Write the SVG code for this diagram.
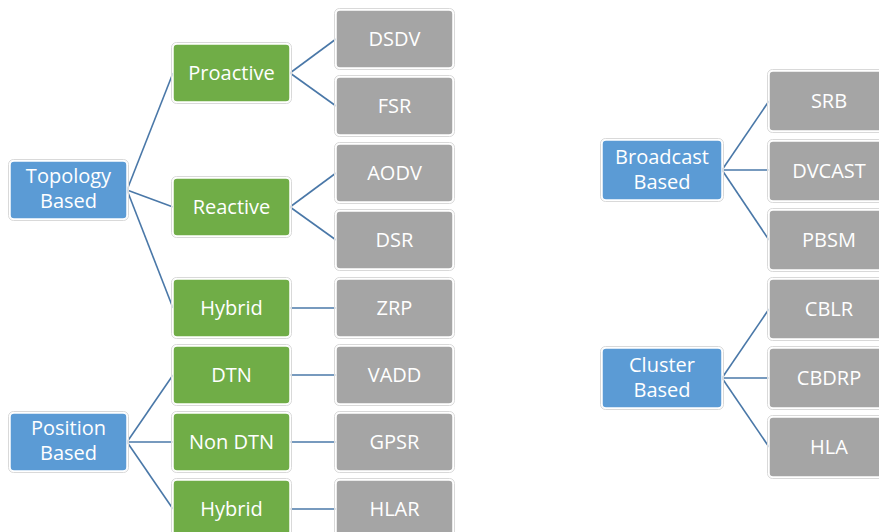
<svg xmlns="http://www.w3.org/2000/svg" width="879" height="532" viewBox="0 0 879 532">
  <style>
    .halo { fill: none; stroke: #d9d9d9; stroke-width: 1; }
    .box { stroke: #ffffff; stroke-width: 1.5; }
    .cat { fill: #5b9bd5; }
    .sub { fill: #70ad47; }
    .proto { fill: #a5a5a5; }
    .lbl { font-family: "Open Sans", "Liberation Sans", sans-serif; font-size: 20px; fill: #ffffff; text-anchor: middle; }
    #connectors line { stroke: #4a78a8; stroke-width: 1.6; }
  </style>
  <rect width="879" height="532" fill="#ffffff"/>

  <g id="connectors">
    <!-- Topology Based -->
    <line x1="127" y1="190" x2="173" y2="73"/>
    <line x1="127" y1="190" x2="173" y2="207"/>
    <line x1="127" y1="190" x2="173" y2="308"/>
    <!-- Position Based -->
    <line x1="127" y1="442" x2="173" y2="375"/>
    <line x1="127" y1="442" x2="173" y2="442"/>
    <line x1="127" y1="442" x2="173" y2="509"/>
    <!-- second level -->
    <line x1="290" y1="73" x2="336" y2="39"/>
    <line x1="290" y1="73" x2="336" y2="106"/>
    <line x1="290" y1="207" x2="336" y2="173"/>
    <line x1="290" y1="207" x2="336" y2="240"/>
    <line x1="290" y1="308" x2="336" y2="308"/>
    <line x1="290" y1="375" x2="336" y2="375"/>
    <line x1="290" y1="442" x2="336" y2="442"/>
    <line x1="290" y1="509" x2="336" y2="509"/>
    <!-- Broadcast Based -->
    <line x1="722" y1="170" x2="769" y2="101"/>
    <line x1="722" y1="170" x2="769" y2="170"/>
    <line x1="722" y1="170" x2="769" y2="240"/>
    <!-- Cluster Based -->
    <line x1="722" y1="378" x2="769" y2="309"/>
    <line x1="722" y1="378" x2="769" y2="378"/>
    <line x1="722" y1="378" x2="769" y2="447"/>
  </g>

  <!-- Category nodes -->
  <g id="topology">
    <rect class="halo" x="8.5" y="159.5" width="120" height="61" rx="5"/>
    <rect class="box cat" x="10" y="161" width="117" height="58" rx="4"/>
    <text class="lbl" x="68.5" y="183"><tspan x="68.5">Topology</tspan><tspan x="68.5" dy="25">Based</tspan></text>
  </g>
  <g id="position">
    <rect class="halo" x="8.5" y="411.5" width="120" height="61" rx="5"/>
    <rect class="box cat" x="10" y="413" width="117" height="58" rx="4"/>
    <text class="lbl" x="68.5" y="435"><tspan x="68.5">Position</tspan><tspan x="68.5" dy="25">Based</tspan></text>
  </g>
  <g id="broadcast">
    <rect class="halo" x="600.5" y="138.5" width="123" height="63" rx="5"/>
    <rect class="box cat" x="602" y="140" width="120" height="60" rx="4"/>
    <text class="lbl" x="662" y="164"><tspan x="662">Broadcast</tspan><tspan x="662" dy="25">Based</tspan></text>
  </g>
  <g id="cluster">
    <rect class="halo" x="600.5" y="346.5" width="123" height="63" rx="5"/>
    <rect class="box cat" x="602" y="348" width="120" height="60" rx="4"/>
    <text class="lbl" x="662" y="372"><tspan x="662">Cluster</tspan><tspan x="662" dy="25">Based</tspan></text>
  </g>

  <!-- Sub-category nodes -->
  <g id="proactive">
    <rect class="halo" x="171.5" y="42.5" width="120" height="61" rx="5"/>
    <rect class="box sub" x="173" y="44" width="117" height="58" rx="4"/>
    <text class="lbl" x="231.5" y="80">Proactive</text>
  </g>
  <g id="reactive">
    <rect class="halo" x="171.5" y="176.5" width="120" height="61" rx="5"/>
    <rect class="box sub" x="173" y="178" width="117" height="58" rx="4"/>
    <text class="lbl" x="231.5" y="214">Reactive</text>
  </g>
  <g id="hybrid-topology">
    <rect class="halo" x="171.5" y="277.5" width="120" height="61" rx="5"/>
    <rect class="box sub" x="173" y="279" width="117" height="58" rx="4"/>
    <text class="lbl" x="231.5" y="315">Hybrid</text>
  </g>
  <g id="dtn">
    <rect class="halo" x="171.5" y="344.5" width="120" height="61" rx="5"/>
    <rect class="box sub" x="173" y="346" width="117" height="58" rx="4"/>
    <text class="lbl" x="231.5" y="382">DTN</text>
  </g>
  <g id="non-dtn">
    <rect class="halo" x="171.5" y="411.5" width="120" height="61" rx="5"/>
    <rect class="box sub" x="173" y="413" width="117" height="58" rx="4"/>
    <text class="lbl" x="231.5" y="449">Non DTN</text>
  </g>
  <g id="hybrid-position">
    <rect class="halo" x="171.5" y="478.5" width="120" height="61" rx="5"/>
    <rect class="box sub" x="173" y="480" width="117" height="58" rx="4"/>
    <text class="lbl" x="231.5" y="516">Hybrid</text>
  </g>

  <!-- Protocol nodes, left -->
  <g id="dsdv">
    <rect class="halo" x="334.5" y="8.5" width="120" height="61" rx="5"/>
    <rect class="box proto" x="336" y="10" width="117" height="58" rx="4"/>
    <text class="lbl" x="394.5" y="46">DSDV</text>
  </g>
  <g id="fsr">
    <rect class="halo" x="334.5" y="75.5" width="120" height="61" rx="5"/>
    <rect class="box proto" x="336" y="77" width="117" height="58" rx="4"/>
    <text class="lbl" x="394.5" y="113">FSR</text>
  </g>
  <g id="aodv">
    <rect class="halo" x="334.5" y="142.5" width="120" height="61" rx="5"/>
    <rect class="box proto" x="336" y="144" width="117" height="58" rx="4"/>
    <text class="lbl" x="394.5" y="180">AODV</text>
  </g>
  <g id="dsr">
    <rect class="halo" x="334.5" y="209.5" width="120" height="61" rx="5"/>
    <rect class="box proto" x="336" y="211" width="117" height="58" rx="4"/>
    <text class="lbl" x="394.5" y="247">DSR</text>
  </g>
  <g id="zrp">
    <rect class="halo" x="334.5" y="277.5" width="120" height="61" rx="5"/>
    <rect class="box proto" x="336" y="279" width="117" height="58" rx="4"/>
    <text class="lbl" x="394.5" y="315">ZRP</text>
  </g>
  <g id="vadd">
    <rect class="halo" x="334.5" y="344.5" width="120" height="61" rx="5"/>
    <rect class="box proto" x="336" y="346" width="117" height="58" rx="4"/>
    <text class="lbl" x="394.5" y="382">VADD</text>
  </g>
  <g id="gpsr">
    <rect class="halo" x="334.5" y="411.5" width="120" height="61" rx="5"/>
    <rect class="box proto" x="336" y="413" width="117" height="58" rx="4"/>
    <text class="lbl" x="394.5" y="449">GPSR</text>
  </g>
  <g id="hlar">
    <rect class="halo" x="334.5" y="478.5" width="120" height="61" rx="5"/>
    <rect class="box proto" x="336" y="480" width="117" height="58" rx="4"/>
    <text class="lbl" x="394.5" y="516">HLAR</text>
  </g>

  <!-- Protocol nodes, right -->
  <g id="srb">
    <rect class="halo" x="767.5" y="69.5" width="123" height="63" rx="5"/>
    <rect class="box proto" x="769" y="71" width="120" height="60" rx="4"/>
    <text class="lbl" x="829" y="108">SRB</text>
  </g>
  <g id="dvcast">
    <rect class="halo" x="767.5" y="139.5" width="123" height="63" rx="5"/>
    <rect class="box proto" x="769" y="141" width="120" height="60" rx="4"/>
    <text class="lbl" x="829" y="178">DVCAST</text>
  </g>
  <g id="pbsm">
    <rect class="halo" x="767.5" y="208.5" width="123" height="63" rx="5"/>
    <rect class="box proto" x="769" y="210" width="120" height="60" rx="4"/>
    <text class="lbl" x="829" y="247">PBSM</text>
  </g>
  <g id="cblr">
    <rect class="halo" x="767.5" y="277.5" width="123" height="63" rx="5"/>
    <rect class="box proto" x="769" y="279" width="120" height="60" rx="4"/>
    <text class="lbl" x="829" y="316">CBLR</text>
  </g>
  <g id="cbdrp">
    <rect class="halo" x="767.5" y="346.5" width="123" height="63" rx="5"/>
    <rect class="box proto" x="769" y="348" width="120" height="60" rx="4"/>
    <text class="lbl" x="829" y="385">CBDRP</text>
  </g>
  <g id="hla">
    <rect class="halo" x="767.5" y="415.5" width="123" height="63" rx="5"/>
    <rect class="box proto" x="769" y="417" width="120" height="60" rx="4"/>
    <text class="lbl" x="829" y="454">HLA</text>
  </g>
</svg>
